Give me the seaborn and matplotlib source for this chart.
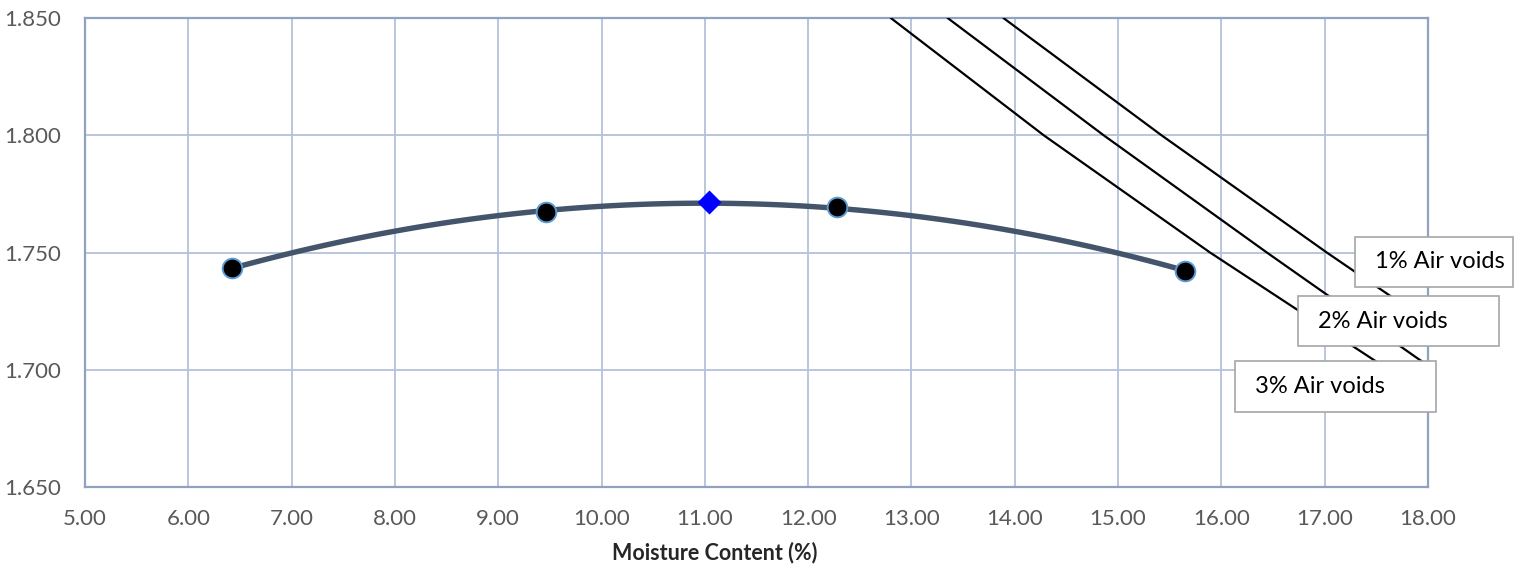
import numpy as np
import pandas as pd
import matplotlib
matplotlib.use("Agg")
import matplotlib.pyplot as plt
from matplotlib.patches import Rectangle
import seaborn as sns

# ---- data ----
moisture = [6.42, 9.46, 12.28, 15.65]
dry_density = [1.7434, 1.7673, 1.7694, 1.7421]
omc = [11.04]
mdd = [1.7715]

void_labels = ["1% Air voids", "2% Air voids", "3% Air voids"]
av1_x = [13.89, 15.42, 17.02, 18.00]
av1_y = [1.850, 1.800, 1.750, 1.7205]
av2_x = [13.35, 14.86, 16.44, 17.92, 18.00]
av2_y = [1.850, 1.800, 1.750, 1.7042, 1.7020]
av3_x = [12.80, 14.28, 15.89, 17.62, 18.00]
av3_y = [1.850, 1.800, 1.750, 1.700, 1.6905]

x_ticks = [5, 6, 7, 8, 9, 10, 11, 12, 13, 14, 15, 16, 17, 18]
y_ticks = [1.650, 1.700, 1.750, 1.800, 1.850]

sns.set_style("white")
plt.rcParams["font.family"] = ["Lato", "DejaVu Sans"]

W, H = 1520, 567
fig = plt.figure(figsize=(W / 100, H / 100), dpi=100)
ax = fig.add_axes([85 / W, 1 - 487 / H, (1428 - 85) / W, (487 - 18) / H])

grid_c = "#B4C2DA"
spine_c = "#8FA2C0"

# air void lines
for xs, ys in [(av1_x, av1_y), (av2_x, av2_y), (av3_x, av3_y)]:
    sns.lineplot(x=xs, y=ys, ax=ax, color="black", linewidth=1.6,
                 estimator=None, sort=False, zorder=3)

# fitted compaction curve
df = pd.DataFrame({"w": moisture, "rho": dry_density})
sns.regplot(data=df, x="w", y="rho", order=2, ci=None, scatter=False,
            truncate=True, ax=ax,
            line_kws=dict(color="#44546A", linewidth=3.9, zorder=4,
                          solid_capstyle="round"))

sns.scatterplot(x=moisture, y=dry_density, ax=ax, color="black", s=200,
                edgecolor="#5B9BD5", linewidth=1.4, zorder=5)
sns.scatterplot(x=omc, y=mdd, ax=ax, color="#0000FF", marker="D", s=150,
                edgecolor="#0000FF", linewidth=0, zorder=6)

ax.set_xlim(5, 18)
ax.set_ylim(1.650, 1.850)
ax.set_xticks(x_ticks)
ax.set_yticks(y_ticks)
ax.set_xticklabels([f"{v:.2f}" for v in x_ticks])
ax.set_yticklabels([f"{v:.3f}" for v in y_ticks])
ax.tick_params(axis="both", length=0, labelsize=16, labelcolor="#595959")
ax.tick_params(axis="x", pad=16)
ax.tick_params(axis="y", pad=17)
ax.grid(True, color=grid_c, linewidth=1.3)
ax.set_axisbelow(True)
for s in ax.spines.values():
    s.set_color(spine_c)
    s.set_linewidth(1.6)

ax.set_xlabel("Moisture Content (%)", fontsize=15.5, fontweight="bold",
              color="#262626")
ax.xaxis.label.set_va("center")
ax.xaxis.set_label_coords((715 - 85) / (1428 - 85), -(553 - 487) / (487 - 18))
ax.set_ylabel("")

# label boxes (pixel boxes -> figure fraction)
boxes = [(1355, 237, 1513, 287, 1375), (1298, 296, 1499, 346, 1318),
         (1235, 361, 1436, 412, 1255)]
for lab, (x0, y0, x1, y1, tx) in zip(void_labels, boxes):
    fig.patches.append(Rectangle((x0 / W, 1 - y1 / H), (x1 - x0) / W,
                                 (y1 - y0) / H, transform=fig.transFigure,
                                 facecolor="white", edgecolor="#A6A6A6",
                                 linewidth=1.2, zorder=5))
    fig.text(tx / W, 1 - (y0 + y1) / 2 / H, lab, ha="left", va="center",
             fontsize=17, color="black", zorder=6)

fig.savefig("out.png", dpi=100)
